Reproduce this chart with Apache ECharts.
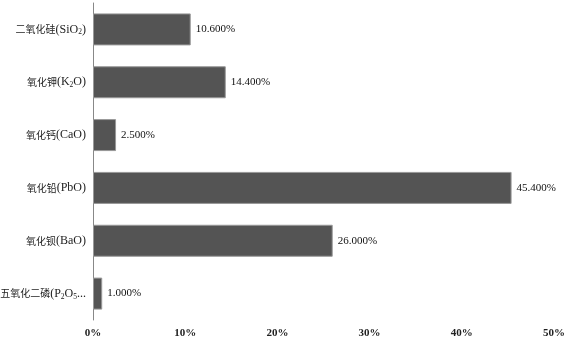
<!DOCTYPE html>
<html>
<head>
<meta charset="utf-8">
<script src="https://cdn.jsdelivr.net/npm/echarts@6/dist/echarts.min.js"></script>
<style>
  html, body { margin: 0; padding: 0; background: #fff; }
  #chart { width: 567px; height: 337px; }
</style>
</head>
<body>
<div id="chart"></div>
<script>
// 类别（带下标的化学式用富文本写法）
var categories = [
  "二氧化硅(SiO{sub|2}{n|)}",
  "氧化钾(K{sub|2}{n|O)}",
  "氧化钙(CaO)",
  "氧化铅(PbO)",
  "氧化钡(BaO)",
  "五氧化二磷(P{sub|2}{n|O}{sub|5}{n|...}"
];
var values = [10.6, 14.4, 2.5, 45.4, 26.0, 1.0];
var xTicks = [0, 10, 20, 30, 40, 50];

var fontLatin = "'Liberation Serif', 'Noto Sans CJK SC', serif";

var myChart = echarts.init(document.getElementById("chart"));
var option = {
  animation: false,
  grid: { left: 93, right: 13, top: 3, bottom: 17, containLabel: false, outerBoundsMode: "none" },
  xAxis: {
    type: "value",
    min: xTicks[0],
    max: xTicks[xTicks.length - 1],
    interval: 10,
    splitLine: { show: false },
    axisLine: { show: false },
    axisTick: { show: false },
    axisLabel: {
      color: "#222",
      fontFamily: fontLatin,
      fontSize: 11,
      fontWeight: "bold",
      margin: 8,
      formatter: "{value}%"
    }
  },
  yAxis: {
    type: "category",
    inverse: true,
    data: categories,
    axisLine: { show: true, lineStyle: { color: "#888", width: 1 } },
    axisTick: { show: false },
    axisLabel: {
      color: "#222",
      fontFamily: fontLatin,
      fontSize: 12,
      margin: 7,
      formatter: function (v) {
        // 中文部分单独用小一点的字号
        return v.replace(/^([^(]+)\(/, "{c|$1}(");
      },
      rich: {
        c: { fontSize: 10, fontFamily: "'Noto Sans CJK SC', sans-serif", color: "#222" },
        sub: { fontSize: 7.5, fontFamily: fontLatin, color: "#222", padding: [6, 0, 0, 0] },
        n: { fontSize: 12, fontFamily: fontLatin, color: "#222" }
      }
    }
  },
  series: [
    {
      type: "bar",
      data: values,
      barWidth: 32,
      itemStyle: { color: "#545454", borderColor: "#999", borderWidth: 1 },
      label: {
        show: true,
        position: "right",
        distance: 5,
        color: "#111",
        fontFamily: fontLatin,
        fontSize: 11,
        formatter: function (p) { return p.value.toFixed(3) + "%"; }
      }
    }
  ]
};
myChart.setOption(option);
</script>
</body>
</html>
